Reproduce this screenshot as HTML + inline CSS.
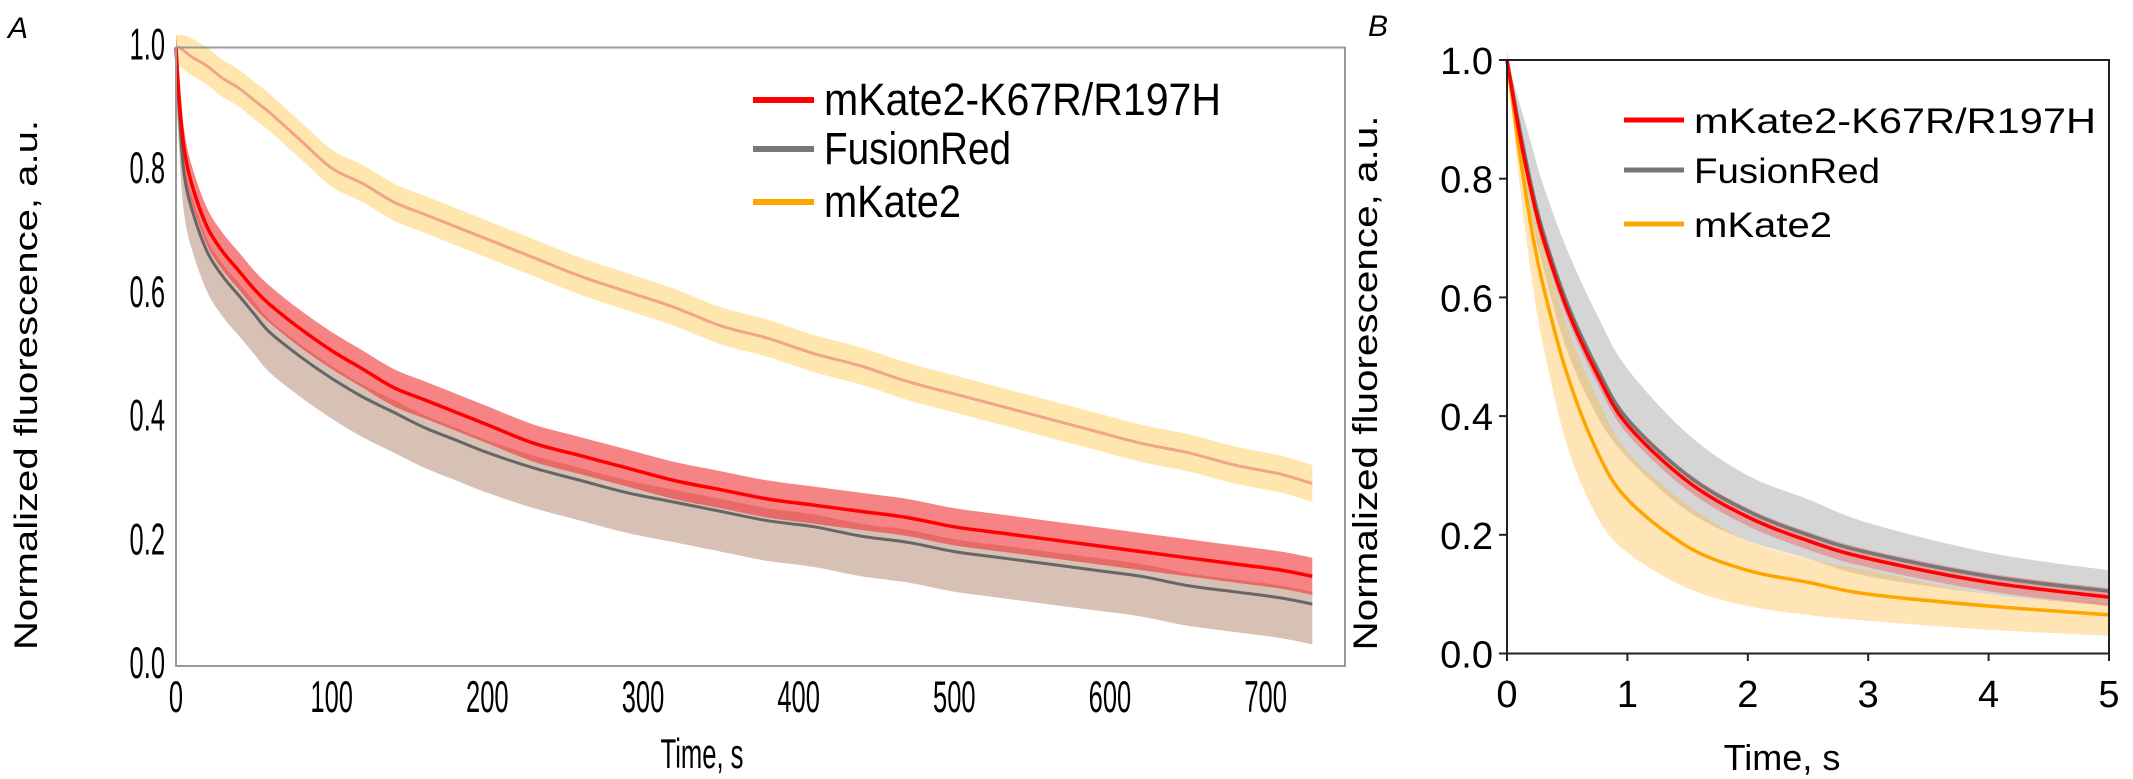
<!DOCTYPE html>
<html><head><meta charset="utf-8"><style>
body{margin:0;background:#fff;}
svg{display:block;font-family:"Liberation Sans","DejaVu Sans",sans-serif;}
</style></head><body>
<svg id="c" width="2133" height="779" viewBox="0 0 2133 779"></svg>
<script>
// Panel A data
const timesA=[0,2,5,10,20,30,40,50,60,80,100,120,140,160,180,200,230,260,290,320,350,380,410,440,470,500,530,560,590,620,650,680,710,730];
const redA=[1,0.92,0.84,0.78,0.71,0.67,0.64,0.61,0.585,0.545,0.51,0.48,0.45,0.43,0.41,0.39,0.36,0.34,0.32,0.30,0.285,0.27,0.26,0.25,0.24,0.225,0.215,0.205,0.195,0.185,0.175,0.165,0.155,0.145];
const grayA=[1,0.9,0.8,0.74,0.67,0.63,0.6,0.57,0.54,0.5,0.465,0.435,0.41,0.385,0.365,0.345,0.32,0.30,0.28,0.265,0.25,0.235,0.225,0.21,0.20,0.185,0.175,0.165,0.155,0.145,0.13,0.12,0.11,0.10];
const orangeA=[1,1,0.995,0.985,0.97,0.95,0.935,0.915,0.895,0.85,0.805,0.78,0.75,0.73,0.71,0.69,0.66,0.63,0.605,0.58,0.55,0.53,0.505,0.485,0.46,0.44,0.42,0.40,0.38,0.36,0.345,0.325,0.31,0.295];
const xTicksA=[0,100,200,300,400,500,600,700];
const yTicks=[0,0.2,0.4,0.6,0.8,1.0];
const yTickLabels=["0.0","0.2","0.4","0.6","0.8","1.0"];
// Panel B data
const timesB=[0,0.1,0.2,0.3,0.5,0.75,1,1.5,2,2.5,3,4,5];
const redB=[1,0.88,0.78,0.70,0.58,0.47,0.385,0.29,0.23,0.19,0.16,0.12,0.095];
const grayB=[1,0.89,0.79,0.71,0.59,0.48,0.395,0.30,0.24,0.20,0.17,0.13,0.105];
const grayUpB=[1,0.93,0.86,0.79,0.68,0.57,0.48,0.37,0.30,0.26,0.22,0.17,0.14];
const grayLoB=[1,0.86,0.74,0.65,0.51,0.40,0.33,0.24,0.19,0.16,0.13,0.10,0.08];
const orangeB=[1,0.85,0.72,0.62,0.47,0.34,0.26,0.18,0.14,0.12,0.10,0.08,0.065];
const orangeUpB=[1,0.88,0.78,0.69,0.55,0.43,0.34,0.25,0.19,0.16,0.14,0.10,0.085];
const orangeLoB=[1,0.80,0.64,0.52,0.35,0.23,0.17,0.11,0.08,0.065,0.055,0.04,0.03];
const xTicksB=[0,1,2,3,4,5];
const legendLabels=["mKate2-K67R/R197H","FusionRed","mKate2"];

const svg=document.getElementById('c');
const NS="http://www.w3.org/2000/svg";
function el(tag,attrs,parent){const e=document.createElementNS(NS,tag);for(const k in attrs)e.setAttribute(k,attrs[k]);(parent||svg).appendChild(e);return e;}

const xA=v=>176+v*(1265.6-176)/700;
const yA=v=>666-v*(666-47.5);
const xB=v=>1507+v*(2109-1507)/5;
const yB=v=>653.5-v*(653.5-60);

// smooth path through points (Catmull-Rom -> cubic bezier)
function smooth(pts,start){
  let d=(start?'M':'L')+pts[0][0].toFixed(1)+','+pts[0][1].toFixed(1);
  for(let i=0;i<pts.length-1;i++){
    const p0=pts[Math.max(0,i-1)],p1=pts[i],p2=pts[i+1],p3=pts[Math.min(pts.length-1,i+2)];
    const c1x=p1[0]+(p2[0]-p0[0])/6,c1y=p1[1]+(p2[1]-p0[1])/6;
    const c2x=p2[0]-(p3[0]-p1[0])/6,c2y=p2[1]-(p3[1]-p1[1])/6;
    d+=` C${c1x.toFixed(1)},${c1y.toFixed(1)} ${c2x.toFixed(1)},${c2y.toFixed(1)} ${p2[0].toFixed(1)},${p2[1].toFixed(1)}`;
  }
  return d;
}
function linePath(xs,ys,fx,fy){return smooth(xs.map((t,i)=>[fx(t),fy(ys[i])]),true);}
function bandPath(xs,up,lo,fx,fy){
  const a=xs.map((t,i)=>[fx(t),fy(up[i])]);
  const b=xs.map((t,i)=>[fx(t),fy(lo[i])]).reverse();
  return smooth(a,true)+' '+smooth(b,false)+' Z';
}

// ---- Panel A ----
const gA=el('g',{});

let t=el('text',{x:8,y:38,'font-size':30,'font-style':'italic'},gA);t.textContent='A';

const off=(a,d)=>a.map(v=>Math.max(0,Math.min(1.02,v+d)));
let p=el('path',{d:bandPath(timesA,off(orangeA,0.03),off(orangeA,-0.03),xA,yA),fill:'rgba(255,205,90,0.5)'},gA);

p=el('path',{d:bandPath(timesA,off(grayA,0.02),off(grayA,-0.065),xA,yA),fill:'rgba(175,130,105,0.5)'},gA);

p=el('path',{d:bandPath(timesA,off(redA,0.03),off(redA,-0.03),xA,yA),fill:'rgba(240,50,50,0.6)'},gA);

p=el('path',{d:linePath(timesA,orangeA,xA,yA),fill:'none',stroke:'#f0a58a','stroke-width':3},gA);

p=el('path',{d:linePath(timesA,grayA,xA,yA),fill:'none',stroke:'#666','stroke-width':3},gA);

p=el('path',{d:linePath(timesA,redA,xA,yA),fill:'none',stroke:'#ff0000','stroke-width':3.5},gA);

p=el('rect',{x:176,y:47.5,width:1169,height:618.5,fill:'none',stroke:'#999','stroke-width':2},gA);

yTicks.forEach((v,i)=>{const tx=el('text',{x:0,y:0,'font-size':34,'text-anchor':'end',transform:`translate(165,${yA(v)+12}) scale(0.75,1.3)`},gA);tx.textContent=yTickLabels[i];
});
xTicksA.forEach(v=>{const tx=el('text',{x:0,y:0,'font-size':34,'text-anchor':'middle',transform:`translate(${xA(v)},${712}) scale(0.75,1.3)`},gA);tx.textContent=v;
});
t=el('text',{x:0,y:0,'font-size':32,'text-anchor':'middle',transform:'translate(37,385) rotate(-90)',textLength:530,lengthAdjust:'spacingAndGlyphs'},gA);t.textContent='Normalized fluorescence, a.u.';

t=el('text',{x:0,y:0,'font-size':32,'text-anchor':'middle',transform:'translate(702,768) scale(0.8,1.3)'},gA);t.textContent='Time, s';

const legColA=['#ff0000','#777','#ffa500'];const legWA=[397,187,137];
[100,149,202].forEach((y,i)=>{const g=el('g',{},gA);
el('line',{x1:753,x2:814,y1:y,y2:y,stroke:legColA[i],'stroke-width':6},g);
const tx=el('text',{x:0,y:0,'font-size':36,textLength:legWA[i],lengthAdjust:'spacingAndGlyphs',transform:`translate(824,${y+15}) scale(1,1.25)`},g);tx.textContent=legendLabels[i];});

// ---- Panel B ----
const gB=el('g',{});

t=el('text',{x:1368,y:36,'font-size':30,'font-style':'italic'},gB);t.textContent='B';

p=el('path',{d:bandPath(timesB,grayUpB,grayLoB,xB,yB),fill:'rgba(150,150,150,0.4)'},gB);

p=el('path',{d:bandPath(timesB,orangeUpB,orangeLoB,xB,yB),fill:'rgba(255,185,60,0.38)'},gB);

p=el('path',{d:bandPath(timesB,off(redB,0.015),off(redB,-0.015),xB,yB),fill:'rgba(240,80,80,0.4)'},gB);

p=el('path',{d:linePath(timesB,orangeB,xB,yB),fill:'none',stroke:'#ffa500','stroke-width':3.5},gB);

p=el('path',{d:linePath(timesB,grayB,xB,yB),fill:'none',stroke:'#777','stroke-width':3.5},gB);

p=el('path',{d:linePath(timesB,redB,xB,yB),fill:'none',stroke:'#ff0000','stroke-width':3.5},gB);

p=el('rect',{x:1507,y:60,width:602,height:593.5,fill:'none',stroke:'#222','stroke-width':2},gB);

yTicks.forEach((v,i)=>{el('line',{x1:1499,x2:1507,y1:yB(v),y2:yB(v),stroke:'#222','stroke-width':2},gB);
const tx=el('text',{x:1493,y:yB(v)+14,'font-size':38,'text-anchor':'end'},gB);tx.textContent=yTickLabels[i];
});
xTicksB.forEach(v=>{el('line',{x1:xB(v),x2:xB(v),y1:653.5,y2:661,stroke:'#222','stroke-width':2},gB);
const tx=el('text',{x:xB(v),y:707,'font-size':38,'text-anchor':'middle'},gB);tx.textContent=v;
});
t=el('text',{x:0,y:0,'font-size':34,'text-anchor':'middle',transform:'translate(1377,383) rotate(-90)',textLength:535,lengthAdjust:'spacingAndGlyphs'},gB);t.textContent='Normalized fluorescence, a.u.';

t=el('text',{x:1782,y:770,'font-size':36,'text-anchor':'middle'},gB);t.textContent='Time, s';

const legColB=['#ff0000','#777','#ffa500'];const legWB=[402,186,138];
[120,170,224].forEach((y,i)=>{const g=el('g',{},gB);
el('line',{x1:1624,x2:1684,y1:y,y2:y,stroke:legColB[i],'stroke-width':5},g);
const tx=el('text',{x:1694,y:y+13,'font-size':35,textLength:legWB[i],lengthAdjust:'spacingAndGlyphs'},g);tx.textContent=legendLabels[i];});
</script>
</body></html>
